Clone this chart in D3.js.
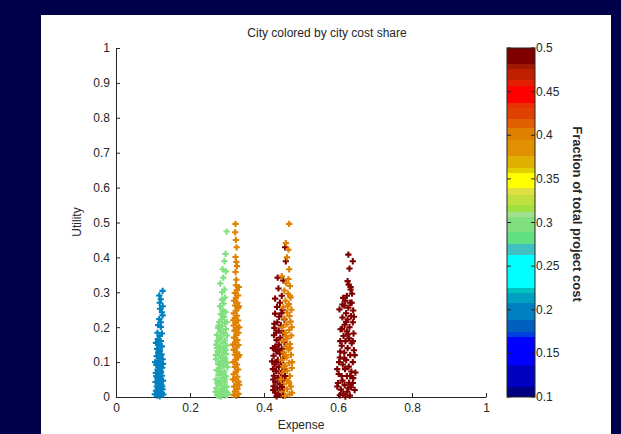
<!DOCTYPE html>
<html>
<head>
<meta charset="utf-8">
<script src="https://cdn.jsdelivr.net/npm/d3@7"></script>
<style>
    body { margin: 0; background: #00004a; }
    text { font-family: "Liberation Sans", Arial, sans-serif; fill: #262626; }
</style>
</head>
<body>
<svg id="main" width="621" height="434"></svg>
<script>
const width = 621;
const height = 434;
const position = { left: 116, top: 48, right: 135, bottom: 37 };
const innerWidth = width - position.left - position.right;
const innerHeight = height - position.top - position.bottom;

const xTicks = [0, 0.2, 0.4, 0.6, 0.8, 1];
const yTicks = [0, 0.1, 0.2, 0.3, 0.4, 0.5, 0.6, 0.7, 0.8, 0.9, 1];
const cbTicks = [0.1, 0.15, 0.2, 0.25, 0.3, 0.35, 0.4, 0.45, 0.5];

// colormap bands (lower edge of each band)
const cmapBreaks = [0.1, 0.1118, 0.1367, 0.1691, 0.1748, 0.1882, 0.2074, 0.2189, 0.2253, 0.2628,
    0.275, 0.2888, 0.3067, 0.3124, 0.3201, 0.3315, 0.3392, 0.3571, 0.3628, 0.3762,
    0.3946, 0.408, 0.4183, 0.4309, 0.4373, 0.4564, 0.4633, 0.4756, 0.4817, 0.5];
const cmapColors = ['#000080', '#0000c0', '#0000ff', '#0040e0', '#0060c0', '#0080c0', '#00a0c0', '#00c0c0', '#00ffff',
    '#40c0c0', '#60e080', '#80e080', '#a0e090', '#a0e040', '#c0e040', '#e0e040', '#ffff00', '#e0d000', '#e0b000',
    '#e09000', '#e08000', '#e06000', '#e04000', '#e83000', '#ff0000', '#e02000', '#c02000', '#a01800', '#800000'];

// cost share of each city (sets its colour)
const cityShare = [0.2, 0.3, 0.4, 0.49, 0.4, 0.49];

// [expense, utility]
const cityA = [[0.126,0.304],[0.117,0.291],[0.121,0.280],[0.118,0.270],[0.126,0.260],[0.119,0.253],[0.124,0.243],[0.126,0.234],[0.117,0.223],[0.121,0.214],[0.114,0.206],[0.121,0.201],[0.112,0.184],[0.124,0.182],[0.118,0.175],[0.113,0.166],[0.121,0.160],[0.108,0.155],[0.116,0.150],[0.124,0.145],
    [0.111,0.138],[0.119,0.133],[0.114,0.126],[0.123,0.122],[0.110,0.117],[0.118,0.112],[0.126,0.108],[0.113,0.103],[0.121,0.098],[0.109,0.092],[0.117,0.088],[0.125,0.084],[0.112,0.079],[0.120,0.074],[0.108,0.069],[0.116,0.065],[0.124,0.061],[0.111,0.056],[0.119,0.052],[0.127,0.047],[0.107,0.043],[0.115,0.039],[0.123,0.035],[0.110,0.030],[0.118,0.026],[0.126,0.022],[0.108,0.018],[0.114,0.014],[0.121,0.010],[0.128,0.007],[0.111,0.004],[0.118,0.002],[0.124,0.012],[0.105,0.008],
    [0.114,0.095],[0.122,0.070],[0.109,0.060],[0.117,0.045],[0.125,0.030],[0.113,0.022],[0.120,0.118],[0.127,0.095],[0.106,0.100],[0.115,0.130]];
const cityB = [[0.299,0.474],[0.296,0.410],[0.293,0.389],[0.288,0.366],[0.297,0.360],[0.290,0.342],[0.282,0.325],[0.293,0.308],[0.287,0.300],[0.286,0.279],[0.295,0.285],[0.281,0.260],[0.291,0.268],[0.288,0.250],[0.296,0.244],[0.283,0.238],[0.292,0.230],[0.286,0.222],[0.279,0.215],[0.294,0.212],
    [0.287,0.204],[0.276,0.198],[0.297,0.195],[0.283,0.189],[0.291,0.183],[0.273,0.178],[0.300,0.176],[0.285,0.171],[0.278,0.165],[0.294,0.162],[0.288,0.155],[0.271,0.150],[0.299,0.148],[0.281,0.143],[0.292,0.137],[0.275,0.132],[0.286,0.127],[0.298,0.123],[0.279,0.118],[0.290,0.113],[0.270,0.108],[0.284,0.104],[0.296,0.100],[0.276,0.095],[0.289,0.090],[0.301,0.086],[0.281,0.082],[0.272,0.077],[0.293,0.073],[0.285,0.068],[0.277,0.063],[0.297,0.059],[0.288,0.055],[0.270,0.050],[0.282,0.046],[0.294,0.042],[0.276,0.037],[0.287,0.033],[0.299,0.029],[0.271,0.025],[0.283,0.021],[0.292,0.017],[0.278,0.013],[0.288,0.009],[0.273,0.005],[0.296,0.004],[0.283,0.001],[0.302,0.012],[0.269,0.015],[0.291,0.064],[0.280,0.092],[0.273,0.140],[0.295,0.110],
    [0.274,0.160],[0.296,0.135],[0.270,0.120],[0.300,0.098],[0.279,0.070],[0.295,0.050],[0.274,0.040],[0.290,0.025],[0.300,0.006],[0.279,0.003],[0.285,0.185],[0.277,0.205],[0.299,0.215],[0.289,0.230],[0.281,0.200]];
const cityC = [[0.323,0.496],[0.322,0.472],[0.324,0.450],[0.326,0.429],[0.323,0.401],[0.325,0.387],[0.327,0.375],[0.323,0.358],[0.325,0.336],[0.324,0.320],[0.332,0.315],[0.327,0.306],[0.321,0.298],[0.330,0.291],[0.324,0.284],[0.319,0.276],[0.328,0.270],[0.322,0.262],[0.330,0.255],[0.325,0.248],[0.318,0.240],[0.327,0.233],[0.321,0.226],[0.330,0.219],[0.324,0.212],[0.318,0.205],[0.328,0.198],[0.322,0.191],[0.331,0.184],[0.325,0.177],[0.319,0.170],[0.328,0.163],[0.322,0.156],[0.331,0.149],[0.325,0.142],[0.318,0.135],[0.327,0.128],[0.321,0.121],[0.330,0.114],[0.324,0.107],[0.317,0.100],[0.327,0.093],[0.321,0.086],[0.330,0.079],[0.324,0.072],[0.318,0.065],[0.328,0.058],[0.322,0.051],[0.331,0.044],[0.325,0.037],[0.319,0.030],[0.328,0.023],[0.322,0.016],[0.331,0.009],[0.325,0.003],[0.318,0.006],
    [0.332,0.260],[0.316,0.150],[0.333,0.120],[0.316,0.050],[0.333,0.035],[0.320,0.190],[0.333,0.200],[0.317,0.220]];
const cityD = [[0.457,0.429],[0.459,0.389],[0.437,0.342],[0.452,0.334],[0.439,0.311],[0.430,0.282],[0.448,0.290],[0.443,0.270],[0.435,0.258],[0.450,0.250],[0.430,0.239],[0.441,0.230],[0.455,0.222],[0.436,0.214],[0.446,0.205],[0.428,0.198],[0.440,0.190],[0.452,0.184],[0.427,0.177],[0.444,0.170],[0.434,0.163],[0.455,0.157],[0.430,0.144],[0.440,0.150],[0.448,0.138],[0.433,0.131],[0.443,0.124],[0.426,0.118],[0.452,0.112],[0.437,0.106],[0.446,0.099],[0.429,0.093],[0.440,0.086],[0.455,0.080],[0.433,0.074],[0.445,0.068],[0.427,0.061],[0.438,0.055],[0.450,0.049],[0.431,0.043],[0.443,0.037],[0.426,0.031],[0.436,0.025],[0.448,0.019],[0.430,0.013],[0.441,0.008],[0.452,0.004],[0.434,0.002],[0.457,0.060],[0.424,0.080],
    [0.425,0.050],[0.432,0.100],[0.424,0.140],[0.428,0.210],[0.447,0.240],[0.433,0.185],[0.425,0.020],[0.437,0.135],[0.449,0.028],[0.422,0.102]];
const cityE = [[0.468,0.496],[0.459,0.441],[0.466,0.422],[0.462,0.400],[0.468,0.366],[0.448,0.346],[0.466,0.338],[0.460,0.326],[0.470,0.318],[0.455,0.305],[0.465,0.296],[0.472,0.285],[0.458,0.276],[0.467,0.266],[0.452,0.258],[0.474,0.250],[0.462,0.242],[0.469,0.232],[0.455,0.225],[0.472,0.216],[0.461,0.208],[0.450,0.200],[0.468,0.192],[0.457,0.184],[0.474,0.176],[0.463,0.168],[0.452,0.160],[0.470,0.152],[0.459,0.145],[0.466,0.136],[0.453,0.128],[0.473,0.121],[0.461,0.113],[0.448,0.106],[0.468,0.098],[0.457,0.090],[0.475,0.083],[0.463,0.075],[0.451,0.068],[0.470,0.060],[0.459,0.052],[0.466,0.045],[0.454,0.037],[0.473,0.030],[0.462,0.022],[0.449,0.015],[0.469,0.008],[0.457,0.003],[0.476,0.012],[0.445,0.050],
    [0.471,0.140],[0.476,0.100],[0.468,0.040],[0.458,0.120],[0.475,0.200],[0.464,0.260],[0.470,0.290],[0.453,0.085],[0.460,0.175]];
const cityF = [[0.628,0.408],[0.640,0.389],[0.631,0.368],[0.626,0.332],[0.634,0.315],[0.629,0.322],[0.634,0.308],[0.614,0.284],[0.624,0.290],[0.638,0.296],[0.620,0.276],[0.633,0.270],[0.604,0.251],[0.617,0.262],[0.628,0.256],[0.641,0.248],[0.622,0.240],[0.635,0.232],[0.612,0.228],[0.626,0.222],[0.640,0.214],[0.618,0.207],[0.631,0.200],[0.607,0.194],[0.624,0.188],[0.642,0.182],[0.615,0.175],[0.630,0.168],[0.620,0.160],[0.637,0.154],[0.610,0.147],[0.626,0.140],[0.643,0.134],[0.617,0.127],[0.633,0.120],[0.605,0.113],[0.622,0.106],[0.640,0.100],[0.613,0.093],[0.629,0.087],[0.619,0.080],[0.636,0.073],[0.602,0.066],[0.624,0.060],[0.641,0.054],[0.612,0.047],[0.630,0.041],[0.618,0.034],[0.635,0.028],[0.608,0.021],[0.625,0.015],[0.614,0.009],[0.632,0.004],[0.620,0.001],[0.645,0.020],[0.600,0.040],
    [0.603,0.100],[0.645,0.120],[0.598,0.080],[0.640,0.160],[0.606,0.160],[0.647,0.070],[0.611,0.195],[0.643,0.230],[0.598,0.030],[0.640,0.040],[0.605,0.005],[0.628,0.025],[0.637,0.270],[0.612,0.265],[0.622,0.215],[0.617,0.110],[0.633,0.060],[0.610,0.060],[0.627,0.180],[0.606,0.130]];

const cities = [cityA, cityB, cityC, cityD, cityE, cityF];

// flatten; the two overlapping cities (D, E) are interleaved so neither sits fully on top
const points = [];
[0, 1, 2, 5].forEach(c => cities[c].forEach(p => points.push({ x: p[0], y: p[1], share: cityShare[c] })));
d3.range(Math.max(cityD.length, cityE.length)).forEach(i => {
    if (cityD[i]) points.push({ x: cityD[i][0], y: cityD[i][1], share: cityShare[3] });
    if (cityE[i]) points.push({ x: cityE[i][0], y: cityE[i][1], share: cityShare[4] });
});

const svg = d3.select('#main');

// white figure area
svg.append('rect')
    .attr('x', 41).attr('y', 15)
    .attr('width', 570).attr('height', height - 15)
    .attr('fill', '#ffffff');

const mainGroup = svg.append('g')
    .attr('transform', `translate(${position.left}, ${position.top})`);

const xScale = d3.scaleLinear().domain([0, 1]).range([0, 370]);
const yScale = d3.scaleLinear().domain([0, 1]).range([349, 0]);
const colorScale = d3.scaleThreshold()
    .domain(cmapBreaks.slice(1, -1))
    .range(cmapColors);

const xAxis = d3.axisBottom(xScale).tickValues(xTicks).tickFormat(d3.format('')).tickSizeInner(-4).tickSizeOuter(0).tickPadding(6);
const yAxis = d3.axisLeft(yScale).tickValues(yTicks).tickFormat(d3.format('')).tickSizeInner(-4).tickSizeOuter(0).tickPadding(6);

const styleAxis = g => {
    g.selectAll('path, line').attr('stroke', '#262626');
    g.selectAll('text').attr('font-size', 12).attr('fill', '#262626')
        .attr('font-family', '"Liberation Sans", Arial, sans-serif');
};

mainGroup.append('g')
    .attr('transform', `translate(0, 349)`)
    .call(xAxis).call(styleAxis);
mainGroup.append('g').call(yAxis).call(styleAxis);

const cross = d3.symbol().type(d3.symbolCross).size(22);
mainGroup.selectAll('.pt')
    .data(points)
    .join('path')
    .attr('class', 'pt')
    .attr('d', cross)
    .attr('transform', d => `translate(${xScale(d.x)}, ${yScale(d.y)})`)
    .attr('fill', d => colorScale(d.share));

svg.append('text')
    .attr('x', 327).attr('y', 37)
    .attr('text-anchor', 'middle')
    .attr('font-size', 12)
    .text('City colored by city cost share');

svg.append('text')
    .text('Expense')
    .attr('text-anchor', 'middle')
    .attr('font-size', 12)
    .attr('x', position.left + 185).attr('y', 429);

svg.append('text')
    .text('Utility')
    .attr('text-anchor', 'middle')
    .attr('font-size', 12)
    .attr('transform', `translate(81, 222) rotate(-90)`);

// colorbar
const cbX = 507, cbW = 28;
const cbScale = d3.scaleLinear().domain([0.1, 0.5]).range([397, 48]);
const cbGroup = svg.append('g');
cbGroup.selectAll('rect.band')
    .data(cmapColors)
    .join('rect')
    .attr('class', 'band')
    .attr('x', cbX)
    .attr('y', (d, i) => cbScale(cmapBreaks[i + 1]))
    .attr('width', cbW)
    .attr('height', (d, i) => cbScale(cmapBreaks[i]) - cbScale(cmapBreaks[i + 1]))
    .attr('fill', d => d)
    .attr('shape-rendering', 'crispEdges');
cbGroup.append('rect')
    .attr('x', cbX).attr('y', 48)
    .attr('width', cbW).attr('height', 349)
    .attr('fill', 'none').attr('stroke', '#262626');
cbGroup.selectAll('line.tk')
    .data(cbTicks.flatMap(t => [[t, 0], [t, 1]]))
    .join('line')
    .attr('class', 'tk')
    .attr('x1', d => d[1] ? cbX + cbW - 4 : cbX)
    .attr('x2', d => d[1] ? cbX + cbW : cbX + 4)
    .attr('y1', d => cbScale(d[0]))
    .attr('y2', d => cbScale(d[0]))
    .attr('stroke', '#262626');
cbGroup.selectAll('text.tl')
    .data(cbTicks)
    .join('text')
    .attr('class', 'tl')
    .attr('x', cbX + cbW + 1)
    .attr('y', d => cbScale(d) + 4)
    .attr('font-size', 12)
    .text(d => d3.format('')(d));

svg.append('text')
    .text('Fraction of total project cost')
    .attr('text-anchor', 'middle')
    .attr('font-size', 13)
    .attr('font-weight', 'bold')
    .attr('fill', '#000')
    .attr('transform', `translate(573, 214) rotate(90)`);
</script>
</body>
</html>
